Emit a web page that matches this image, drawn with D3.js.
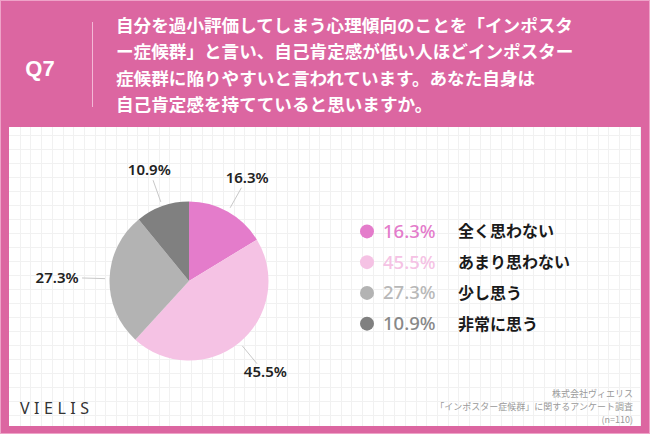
<!DOCTYPE html>
<html>
<head>
<meta charset="utf-8">
<script src="https://cdn.jsdelivr.net/npm/d3@7"></script>
<style>
  html, body { margin: 0; padding: 0; background: #dc66a1; }
  svg { display: block; }
  text { font-family: "Noto Sans CJK JP", "Noto Sans", sans-serif; }
</style>
</head>
<body>
<svg id="chart" width="650" height="434"></svg>
<script>
// Survey answers (Q7), in drawing order from 12 o'clock clockwise
const answers = ['全く思わない', 'あまり思わない', '少し思う', '非常に思う'];
const shares = [16.3, 45.5, 27.3, 10.9];
const sliceColors = ['#e47ccb', '#f5c2e4', '#b3b3b3', '#808080'];
const legendTextColors = ['#e47ccb', '#f5c2e4', '#b8b8b8', '#888888'];

const questionLines = [
  '自分を過小評価してしまう心理傾向のことを「インポスタ',
  'ー症候群」と言い、自己肯定感が低い人ほどインポスター',
  '症候群に陥りやすいと言われています。あなた自身は',
  '自己肯定感を持てていると思いますか。',
];
const sourceLines = ['株式会社ヴィエリス', '「インポスター症候群」に関するアンケート調査', '(n=110)'];

const W = 650, H = 434;
const pink = '#dc66a1';
const svg = d3.select('#chart');

// Background and white panel
svg.append('rect').attr('width', W).attr('height', H).attr('fill', pink);
svg.append('rect')
  .attr('x', 0.5).attr('y', 0.5).attr('width', W - 1).attr('height', H - 1)
  .attr('fill', 'none').attr('stroke', '#eea3c8').attr('stroke-width', 1);

const panel = { x: 9, y: 127, w: 632, h: 299 };
svg.append('rect')
  .attr('x', panel.x).attr('y', panel.y)
  .attr('width', panel.w).attr('height', panel.h)
  .attr('fill', '#ffffff');

// Faint grid on the panel
const grid = svg.append('g').attr('stroke', '#f1f1f1').attr('stroke-width', 1);
d3.range(panel.x + 10.7, panel.x + panel.w, 10.7).forEach((x) => {
  grid.append('line')
    .attr('x1', Math.round(x) + 0.5).attr('x2', Math.round(x) + 0.5)
    .attr('y1', panel.y).attr('y2', panel.y + panel.h);
});
d3.range(panel.y + 8, panel.y + panel.h, 14).forEach((y) => {
  grid.append('line')
    .attr('x1', panel.x).attr('x2', panel.x + panel.w)
    .attr('y1', Math.round(y) + 0.5).attr('y2', Math.round(y) + 0.5);
});

// Header
svg.append('text')
  .attr('x', 40).attr('y', 76)
  .attr('text-anchor', 'middle')
  .attr('fill', '#fff')
  .style('font-family', '"Liberation Sans", sans-serif')
  .style('font-size', '22px').style('font-weight', '700')
  .text('Q7');

svg.append('line')
  .attr('x1', 92.5).attr('x2', 92.5).attr('y1', 22).attr('y2', 107)
  .attr('stroke', '#f3b8d6').attr('stroke-width', 1);

svg.append('g')
  .selectAll('text')
  .data(questionLines)
  .join('text')
  .attr('x', 116)
  .attr('y', (d, i) => 32 + i * 26.3)
  .attr('fill', '#fff')
  .style('font-size', '17.6px').style('font-weight', '700')
  .text((d) => d);

// Pie
const cx = 189, cy = 281, radius = 79.5;
const pie = d3.pie().sort(null).value((d) => d)(shares);
const arc = d3.arc().innerRadius(0).outerRadius(radius);

const pieG = svg.append('g').attr('transform', `translate(${cx},${cy})`);
pieG.selectAll('path')
  .data(pie)
  .join('path')
  .attr('d', arc)
  .attr('fill', (d, i) => sliceColors[i]);

// Leader lines and outer labels
const midAngle = (d) => (d.startAngle + d.endAngle) / 2;
const polar = (a, r) => [r * Math.sin(a), -r * Math.cos(a)];

pieG.selectAll('line.leader')
  .data(pie)
  .join('line')
  .attr('class', 'leader')
  .attr('x1', (d) => polar(midAngle(d), 84)[0])
  .attr('y1', (d) => polar(midAngle(d), 84)[1])
  .attr('x2', (d) => polar(midAngle(d), 107)[0])
  .attr('y2', (d) => polar(midAngle(d), 107)[1])
  .attr('stroke', '#c8c8c8').attr('stroke-width', 1);

pieG.selectAll('text.outer')
  .data(pie)
  .join('text')
  .attr('class', 'outer')
  .attr('x', (d) => {
    const s = Math.sin(midAngle(d));
    return 118 * s + 14 * Math.pow(s, 5);
  })
  .attr('y', (d) => polar(midAngle(d), 118)[1] + 5)
  .attr('text-anchor', 'middle')
  .attr('fill', '#222')
  .style('font-family', '"Noto Sans", sans-serif')
  .style('font-size', '15px').style('font-weight', '600')
  .text((d) => `${d.data.toFixed(1)}%`);

// Legend
const legendY = d3.scaleBand().domain(answers).range([216, 339]);
const legend = svg.append('g');
const rows = legend.selectAll('g')
  .data(answers)
  .join('g')
  .attr('transform', (d) => `translate(0,${legendY(d) + legendY.bandwidth() / 2})`);

rows.append('circle')
  .attr('cx', 367).attr('cy', 0).attr('r', 7)
  .attr('fill', (d, i) => sliceColors[i]);

rows.append('text')
  .attr('x', 383).attr('y', 6.5)
  .attr('fill', (d, i) => legendTextColors[i])
  .style('font-family', '"Noto Sans", sans-serif')
  .style('font-size', '18.5px').style('font-weight', '500')
  .text((d, i) => `${shares[i].toFixed(1)}%`);

rows.append('text')
  .attr('x', 458).attr('y', 6)
  .attr('fill', '#1a1a1a')
  .style('font-size', '16px').style('font-weight', '700')
  .text((d) => d);

// Footer: logo and source
svg.append('text')
  .attr('x', 20).attr('y', 414)
  .attr('fill', '#333')
  .style('font-family', '"Noto Sans", sans-serif')
  .style('font-size', '16px').style('font-weight', '400')
  .style('letter-spacing', '4.5px')
  .text('VIELIS');

svg.append('g')
  .selectAll('text')
  .data(sourceLines)
  .join('text')
  .attr('x', 633)
  .attr('y', (d, i) => 397 + i * 13)
  .attr('text-anchor', 'end')
  .attr('fill', '#9a9a9a')
  .style('font-size', '9px')
  .text((d) => d);
</script>
</body>
</html>
